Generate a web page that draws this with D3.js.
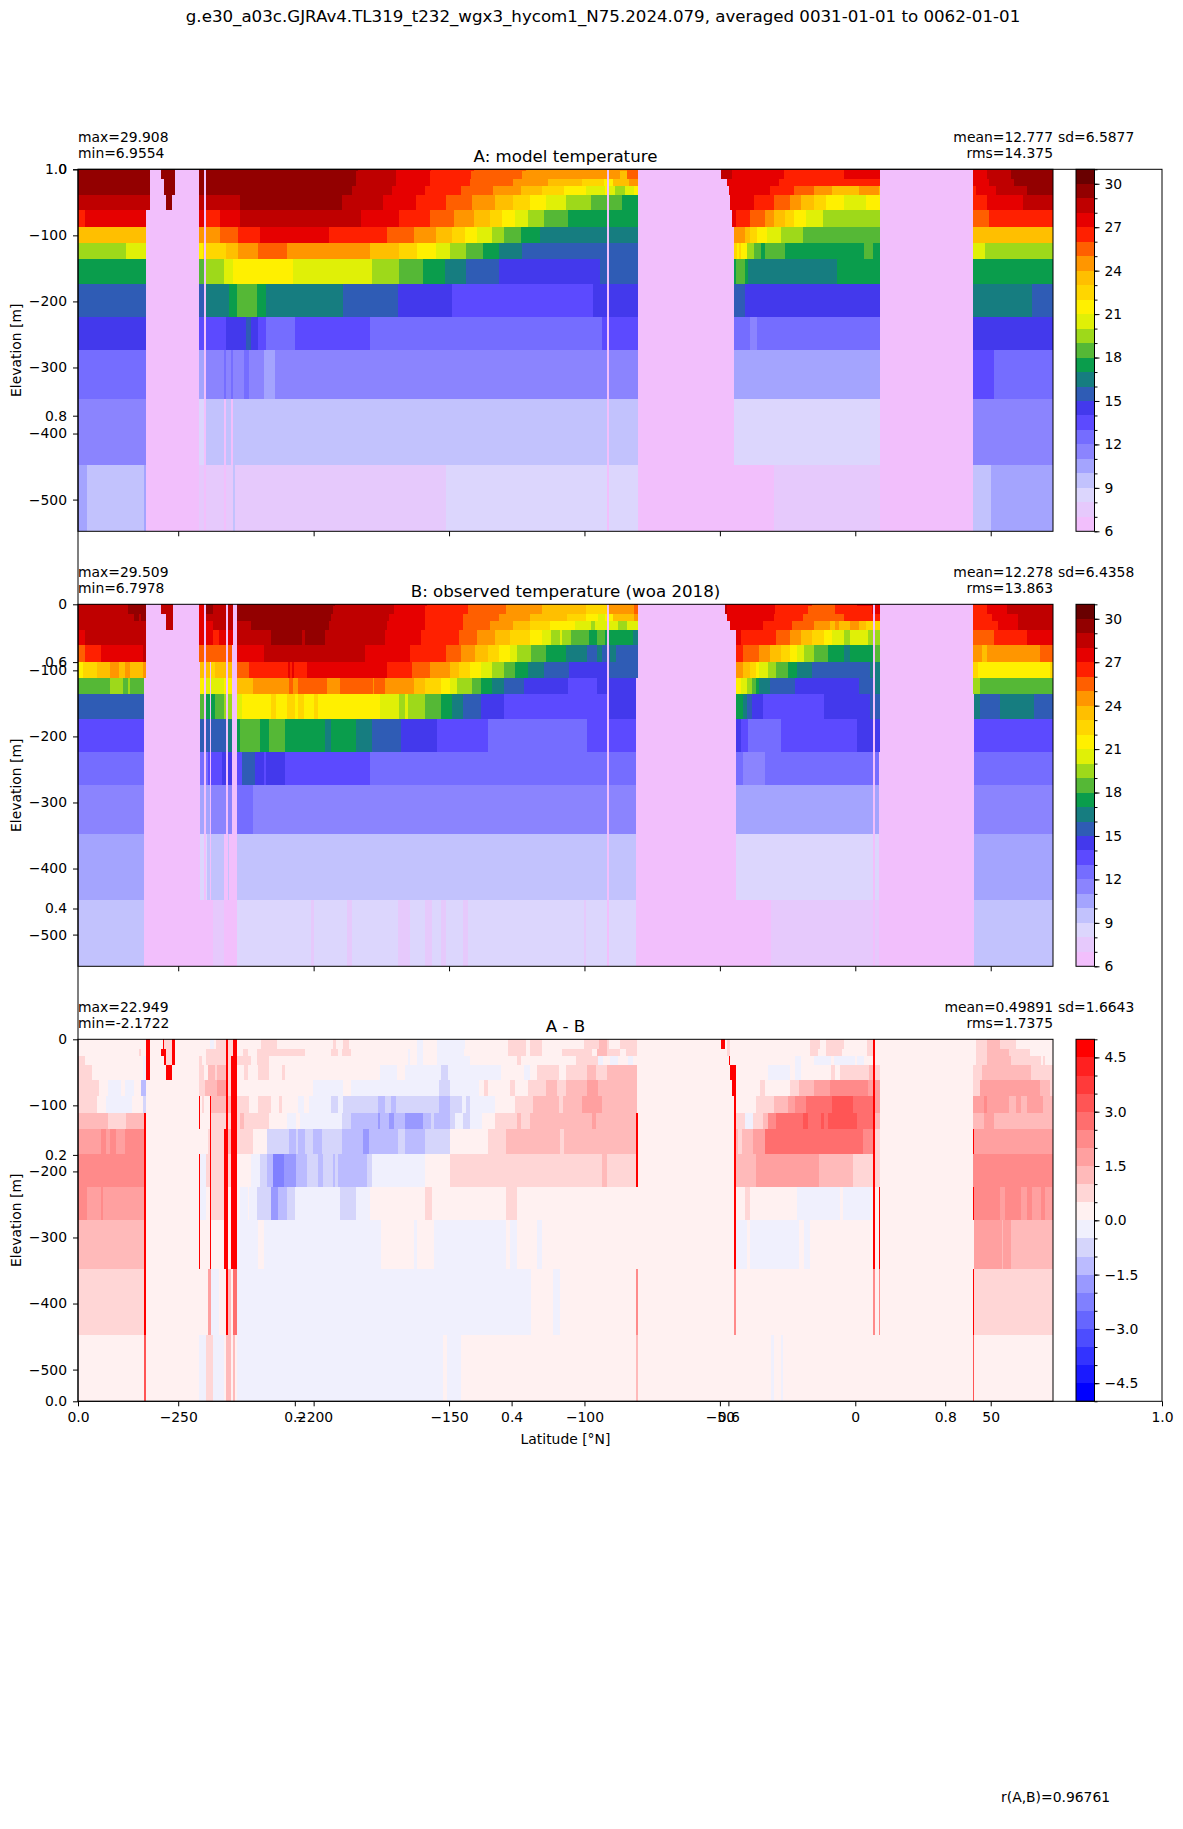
<!DOCTYPE html>
<html>
<head>
<meta charset="utf-8">
<style>
html,body{margin:0;padding:0;background:#fff}
svg text{font-family:"DejaVu Sans",sans-serif;fill:#000}
.tick text{font-size:13.9px;font-family:"DejaVu Sans",sans-serif;fill:#000}
.tick line,.domain{stroke:#000;stroke-width:1}
</style>
<script src="https://cdn.jsdelivr.net/npm/d3@7"></script>
</head>
<body>
<script>
// Section through the upper ocean: model, observations and their difference.
const suptitle = "g.e30_a03c.GJRAv4.TL319_t232_wgx3_hycom1_N75.2024.079, averaged 0031-01-01 to 0062-01-01";
const correlationLabel = "r(A,B)=0.96761";

const lonTicks = [-250,-200,-150,-100,-50,0,50];
const depthTicks = [0,-100,-200,-300,-400,-500];
const unitTicks = [0,0.2,0.4,0.6,0.8,1];
const tempBarTicks = [6,9,12,15,18,21,24,27,30];
const diffBarTicks = [-4.5,-3,-1.5,0,1.5,3,4.5];

// Layer interfaces in metres below the surface.
const depthEdges = [0,2.5,14.6,24.6,39,61.6,87,111,136,173.5,223.5,273.5,348,448,548];
const diffDepthEdges = [0,14.6,24.6,39,61.6,86,111,136,173.5,223.5,273.5,348,448,548];

const tempColors = ["#f2bffc","#e6c9fc","#dcd6fd","#c2c2fd","#a4a4fe","#8b84fe","#756dff","#5c4aff","#4339ec","#2f5cb5","#167d80","#0a9d4c","#55b836","#9ed91a","#e0f007","#fff000","#ffd600","#ffbf00","#ff9600","#ff5f00","#ff2000","#e60000","#bf0000","#930000","#690000"];
const diffColors = ["#0000ff","#1a1aff","#3333ff","#4d4dff","#6666ff","#8080ff","#9999ff","#bbbbff","#d5d5fb","#f0f0fd","#fff1f1","#ffd6d6","#ffbaba","#ffa0a0","#ff8a8a","#ff6e6e","#ff5555","#ff3a3a","#ff2020","#ff0000"];

// Each layer lists value, eastern edge, value, eastern edge... starting from the western limit.
const modelRows = [
[29,-260.4,6,-256.3,29,-251.2,6,-242.3,29,-183.6,28,-169.5,27,-156.5,26,-140.9,25,-121.7,24,-84.2,25,-80.2,6,-49.6,28,-45.5,27,-26.3,26,-4.3,27,9.15,6,43.5,27,48.7,28,57.5,29,73],
[29,-260.4,6,-256.3,29,-251.2,6,-242.3,29,-184.2,28,-169.5,27,-156.9,26,-142,25,-123,24,-86.7,23,-84.2,25,-80.2,6,-49.6,28,-45.5,27,-26.3,26,-4.3,27,9.15,6,43.5,27,48.7,28,57.5,29,73],
[29,-260.4,6,-255.3,29,-251.2,6,-242.3,29,-184.2,28,-169.5,27,-156.9,26,-142.2,25,-126.4,24,-113.5,23,-100.8,22,-92.8,21,-89.4,23,-83.5,24,-80.2,6,-47.3,27,-28.3,26,9.15,6,43.5,27,49.2,28,58.6,29,73],
[29,-260.4,6,-255.3,29,-251.2,6,-242.3,29,-185.7,28,-171,27,-158.9,26,-145.5,25,-133.8,24,-123.5,23,-115.6,22,-107.5,21,-99.4,20,-92.5,21,-91,20,-88.7,19,-85.2,20,-81.7,21,-80.2,6,-46.6,27,-31.5,26,-22.6,25,-15.2,24,-8.6,23,1.5,24,8.7,23,9.15,6,43.5,26,44.5,27,52,28,63.4,29,73],
[28,-260.4,6,-254.5,29,-252.2,6,-242.3,28,-227.2,29,-189.4,28,-174.4,27,-162.1,26,-151.1,25,-141.4,24,-133,23,-126.4,22,-120.1,21,-114.1,20,-106.7,19,-97.5,18,-86.3,17,-80.2,6,-46.2,27,-37.4,26,-30,25,-24.1,24,-20,23,-15.2,22,-10.8,21,-4.2,20,3.9,21,9.15,6,43.5,26,48.7,27,62,28,73],
[26,-284.4,27,-261.9,6,-242.3,27,-240.5,26,-234.6,27,-227.2,28,-182.5,27,-168.5,26,-157,25,-148.2,24,-140.8,23,-134.8,22,-130.4,21,-125.6,20,-120.9,19,-115,18,-106.1,17,-80.2,6,-45.5,27,-44,26,-38.9,25,-33.3,24,-30,23,-25.9,22,-22.6,21,-18.2,20,-11.9,19,9.15,6,43.5,25,49.4,26,73],
[23,-261.9,6,-242.3,24,-234.6,25,-228,26,-219.8,27,-194.3,26,-172.8,25,-163,24,-154.7,23,-148.8,22,-144.1,21,-139.6,20,-134.1,19,-129.7,18,-123.4,17,-116.4,16,-80.2,6,-44.8,24,-40.7,23,-38.9,22,-36.3,21,-32.6,20,-27.4,19,-19.3,18,9.15,6,43.5,23,73],
[19,-269.25,20,-261.9,6,-242.3,21,-240.9,22,-232.3,23,-228,24,-220.6,25,-209.8,24,-179.2,23,-168.5,22,-161.7,21,-154.7,20,-149.6,19,-143.7,18,-137.5,17,-131.5,16,-123.1,15,-80.2,6,-44.8,22,-43.7,21,-43,22,-42.2,21,-40,19,-37.4,18,-34.8,17,-33.3,18,-25.9,17,3.2,18,6.7,17,9.15,6,43.5,20,47.9,19,73],
[17,-261.9,6,-242.3,18,-240.5,19,-233.1,20,-229.8,21,-207.6,20,-178.4,19,-168.5,18,-159.6,17,-151.5,16,-143.7,15,-131.5,14,-94.2,15,-80.2,6,-44.8,17,-44,18,-40.7,17,-39.6,16,-6.8,17,9.15,6,43.5,17,73],
[15,-261.9,6,-242.3,15,-240.2,16,-231.3,17,-228.2,18,-220.8,17,-217.5,16,-189.2,15,-168.9,14,-148.8,13,-96.9,14,-80.2,6,-44.8,15,-40.7,14,9.15,6,43.5,16,65.3,15,73],
[14,-261.9,6,-242.3,13,-232.3,14,-225,15,-223.2,14,-220.6,13,-217.5,12,-206.9,13,-179.2,12,-93.4,13,-80.2,6,-44.8,12,-38.9,11,-36.3,12,9.15,6,43.5,14,73],
[12,-261.9,6,-242.3,10,-240,11,-233.1,12,-232.3,11,-230.5,12,-229.8,11,-225.7,12,-223.9,11,-218.3,10,-214.3,11,-80.2,6,-44.8,10,9.15,6,43.5,13,51.3,12,73],
[11,-261.9,6,-242.3,8,-240,9,-233.1,6,-232.3,9,-230.5,6,-229.8,9,-80.2,6,-44.8,8,9.15,6,43.5,11,73],
[10,-283.6,9,-262.7,10,-261.9,6,-242.3,7,-233.1,6,-232.3,7,-229.8,9,-229,7,-151.1,8,-80.2,6,-30,7,9.15,6,43.5,9,50.2,10,73]
];

const obsRows = [
[28,-268.6,29,-261.9,6,-256.3,28,-255.4,6,-255.2,28,-252.1,6,-242.3,27,-240.5,29,-237.2,28,-232.3,6,-231.7,28,-229.8,6,-228.2,29,-192.1,28,-170.2,27,-158,26,-143,25,-128.8,24,-115.6,23,-99.4,22,-91.5,24,-81.6,25,-80.2,6,-48,28,-47.3,27,-29.7,26,-16,25,-7.5,26,0.5,27,9.15,6,43.5,26,48.6,27,56,28,73],
[28,-268.6,29,-261.9,6,-256.3,28,-255.4,6,-255.2,28,-252.1,6,-242.3,27,-240.5,29,-237.2,28,-232.3,6,-231.7,28,-229.8,6,-228.2,29,-192.9,28,-170.2,27,-158.9,26,-143,25,-128.8,24,-115.6,23,-99.4,22,-91.5,24,-81.6,25,-80.2,6,-48,28,-47.3,27,-29.7,26,-17.3,25,-7.5,26,6,27,9.15,6,43.5,26,48.6,27,56,28,73],
[28,-266.3,29,-264.6,28,-263.6,29,-261.9,6,-254.5,28,-252.1,6,-242.3,27,-240.5,28,-232.3,6,-231.7,28,-229.8,6,-228.2,29,-193.7,28,-172.3,27,-158.9,26,-144.9,25,-131.4,24,-120.1,23,-106.4,22,-99.4,21,-95.1,20,-92.5,21,-89.4,23,-81.6,24,-80.2,6,-47.3,27,-30,26,-19.3,25,-4.2,26,9.15,6,43.5,26,50.6,27,60.1,28,73],
[28,-261.9,6,-254.5,28,-252.1,6,-242.3,27,-237.2,28,-232.3,6,-231.7,28,-229.8,6,-228.2,28,-223,29,-194.3,28,-172.8,27,-158.9,26,-144.9,25,-134.8,24,-126.4,23,-120.1,22,-112.7,21,-103.4,20,-97.5,19,-96.2,20,-87.6,19,-84.2,20,-80.2,6,-46.2,27,-34.1,26,-23.4,25,-15.2,24,-9.2,23,-7.5,24,-6.1,23,-2.1,24,1.5,23,3.9,22,9.15,6,43.5,26,52.7,27,60.1,28,73],
[27,-284.4,28,-261.9,6,-242.3,27,-237.2,26,-235,27,-232.3,6,-231.7,27,-229.8,6,-228.2,28,-215.7,29,-204.2,28,-203.2,29,-195.8,28,-173.6,27,-160.3,26,-146.3,25,-139.6,24,-133,23,-127.5,22,-120.1,21,-115.6,20,-112.3,19,-109,20,-108.3,19,-104.9,18,-98.3,17,-95.3,18,-92.6,17,-81.9,16,-80.2,6,-44,27,-42.2,26,-29.3,25,-24.1,24,-20,23,-16,22,-11.6,21,-8.6,20,-4.2,19,-2,20,4.8,19,9.15,6,43.5,25,51.3,26,63.4,27,73],
[25,-284.4,26,-278.5,27,-263,28,-261.9,6,-242.3,25,-232.3,6,-231.7,25,-230.3,6,-228.2,27,-218.3,28,-181,27,-164.4,26,-151.1,25,-145.5,24,-140.4,23,-135.6,22,-131.5,21,-127.5,20,-124.8,19,-119.7,18,-114.1,17,-106.7,16,-99,15,-95.3,16,-93.4,15,-90.4,16,-88.5,15,-80.2,6,-44,26,-41.4,25,-35.5,24,-31.5,23,-27.4,22,-24.1,21,-21.5,20,-18.9,19,-15.2,18,-10.1,17,-4.2,16,-2,17,6.7,18,9.15,6,43.5,24,46.8,23,48.6,24,68.2,25,73],
[21,-285.3,22,-280,23,-275.2,24,-271.9,23,-269.6,24,-267.8,23,-263,24,-261.9,6,-241.9,23,-238.3,6,-237.9,22,-236.5,23,-232.3,6,-231.7,23,-230.3,6,-228.2,25,-223.9,26,-209.6,27,-208.9,26,-207.9,27,-207.2,26,-202.4,27,-172.8,26,-163.6,25,-157,24,-149.6,23,-146.3,22,-142.2,21,-138.1,20,-134.1,19,-129.7,18,-125.6,17,-120.9,16,-115,15,-105.7,14,-90.8,15,-80.2,6,-44,24,-41.4,23,-38.9,22,-36.6,21,-35.5,20,-32.2,19,-29.3,18,-24.8,17,-21.5,16,-16,15,5.4,16,9.15,6,43.5,22,45.4,21,71.9,22,73],
[18,-275.2,19,-270.4,18,-268.6,19,-267.8,18,-262.7,6,-241.9,21,-240.5,20,-238.3,6,-237.9,20,-233.1,21,-232.3,6,-231.7,21,-230.3,6,-228.2,23,-222.4,24,-209.1,25,-207.6,24,-205.8,25,-195,24,-190.2,25,-178.2,24,-177.6,25,-173.6,24,-163,23,-158.9,22,-152.9,21,-149.6,20,-147,19,-141.4,18,-138.1,17,-134.1,16,-129.7,15,-122.3,14,-106.1,13,-95.3,14,-80.9,6,-44,21,-42.2,20,-40,19,-38.1,18,-36.6,17,-35.5,16,-31.5,15,-22.3,14,1.5,15,6.7,16,9.15,6,43.5,19,46.1,18,73],
[15,-262.7,6,-241.9,18,-240,17,-238.3,6,-237.9,17,-236.5,18,-233.1,19,-232.3,6,-231.7,19,-230.3,6,-228.2,20,-226.4,21,-215.7,22,-213.8,21,-209.8,22,-206.7,21,-205.7,22,-203.6,21,-199.7,22,-198.4,21,-175.5,20,-168.5,19,-166.2,20,-165.2,19,-158.9,18,-152.9,17,-148.8,16,-144.9,15,-138.1,14,-129.7,13,-91.8,14,-80.9,6,-44,17,-41.4,16,-40,15,-38.1,14,-34.1,13,-11.6,14,5.4,15,9.15,6,43.9,16,46.1,15,53.5,16,66.1,15,73],
[13,-262.7,6,-241.9,15,-238.3,6,-237.9,15,-232.3,6,-231.7,16,-230.3,6,-228.2,17,-227.2,18,-219.8,17,-216.5,18,-210.6,17,-195.8,16,-193.5,17,-184.3,16,-178.5,15,-167.7,14,-154.4,13,-135.6,12,-99,13,-80.9,6,-44,14,-42.2,13,-39.6,12,-27.4,13,0.6,14,9.15,6,43.9,13,73],
[12,-262.7,6,-241.9,12,-239,13,-238.3,6,-237.9,13,-233.8,14,-232.3,6,-231.7,14,-230.3,6,-228.2,13,-226.4,15,-221.6,14,-218.3,13,-217.5,14,-210.6,13,-179.2,12,-80.9,6,-44,12,-41.4,11,-33.3,12,8.7,6,43.9,12,73],
[11,-262.7,6,-241.9,10,-238.3,6,-237.9,11,-232.3,6,-231.7,11,-230.3,6,-228.2,12,-222.4,11,-80.9,6,-44,10,8.7,6,43.9,11,73],
[10,-262.7,6,-241.9,8,-239.4,9,-238.3,6,-237.9,9,-233.1,6,-231.7,9,-231.1,6,-228.2,9,-80.9,6,-44,8,8.7,6,43.9,10,73],
[9,-262.7,6,-237.2,7,-233.1,6,-228.2,8,-200.9,7,-200,8,-187.6,7,-185.7,8,-168.7,7,-164.4,8,-158.9,7,-156.2,8,-152.9,7,-151.1,8,-144.9,7,-143,8,-100.2,7,-99.4,8,-80.9,6,-31.3,7,8.7,6,43.9,9,73]
];

const diffRows = [
[.25,-261.9,4.75,-260.4,.25,-255.5,4.75,-255.1,.75,-252.2,4.75,-251.2,.25,-238.4,-.25,-236.9,.25,-236.1,.75,-232.3,4.75,-231.7,.75,-229.8,4.75,-228.2,.25,-219.4,.75,-213.5,.25,-192.7,.75,-191.8,.25,-189,.75,-187.1,.25,-161.7,-.25,-159.8,.25,-154.5,-.25,-144.2,.25,-128.1,.75,-121.5,.25,-120.1,.75,-115.6,.25,-100.2,.75,-94.5,1.25,-91.8,.75,-90.8,.25,-86.7,.75,-80.5,.25,-49.6,4.75,-48.1,.25,-47.3,.75,-46.2,.25,-16.7,.75,-13.2,.25,-10.9,.75,-4.3,.25,4.2,.75,6.7,4.75,7.4,.25,44.7,.75,48.6,1.25,53.3,.75,59.3,.25,73],
[.25,-264.4,.75,-263.6,.25,-261.9,4.75,-260.4,.25,-256.3,4.75,-254.5,.75,-252.2,4.75,-251.2,.25,-239.6,.75,-232.3,4.75,-231.7,.75,-229.8,4.75,-228.2,.25,-226.1,.75,-224.1,.25,-220.8,.75,-203.2,.25,-193.7,.75,-191,.25,-189.4,.75,-186.1,.25,-165.3,-.25,-164.4,.25,-161.7,-.25,-159.8,.25,-154.5,-.25,-144.6,.25,-128.1,.75,-121.5,.25,-120.1,.75,-115.6,.25,-108.3,.75,-97.1,.25,-95.4,1.25,-91.8,.75,-87,.25,-84.6,.75,-80.5,.25,-47.3,.75,-46.2,.25,-16.7,.75,-13.6,.25,-11,.75,-4.8,.25,4.2,.75,6.7,4.75,7.4,.25,44.7,.75,48.6,1.25,56.8,.75,64.5,.25,73],
[.75,-284.4,.25,-263,-.25,-261.9,4.75,-260.4,.25,-255.3,4.75,-254.5,.75,-252.2,4.75,-251.2,.25,-242.2,.75,-241.3,.25,-239.8,.75,-232.3,4.75,-231.7,.75,-230.5,4.75,-228.2,.75,-223,.25,-220.8,.75,-216.5,.25,-165,-.25,-164.4,.25,-161.7,-.25,-159.8,.25,-154.5,-.25,-142.2,.25,-124.8,.75,-123.5,.25,-103.3,.75,-95.1,-.25,-93.2,.25,-90.5,-.25,-87.6,.25,-84,-.25,-81.9,.25,-46.6,4.75,-46.2,.25,-22.2,-.25,-20.1,.25,-15.3,-.25,-9.1,.25,-8,-.25,-.1,.25,.5,-.25,3.2,.25,6.7,4.75,7.4,.25,44.7,.75,48.6,1.25,57.5,.75,68.5,.25,69.2,.75,70.1,.25,73],
[.75,-281.8,.25,-263,-.25,-261.9,4.75,-260.4,.25,-254.5,4.75,-252.2,.25,-242.2,.75,-240.5,.25,-239,1.25,-236.3,.75,-235.6,1.25,-232.3,4.75,-231.7,.75,-230.5,4.75,-228.2,.25,-225.7,.75,-224.1,.25,-220.4,.75,-216.5,.25,-211.6,.75,-210.6,.25,-175.6,-.25,-169.4,.25,-166.4,-.25,-152.9,-.75,-150.4,-.25,-130.9,.25,-122.3,-.25,-120.1,.25,-117.6,.75,-109.3,.25,-106.7,.75,-99.1,1.25,-95.8,.75,-91.8,1.25,-80.5,.25,-46.2,4.75,-44,.25,-32.4,-.25,-24.1,.25,-22.2,-.25,-20.1,.25,-9.1,.75,-7.5,.25,-5.7,.75,4.9,1.25,6.7,4.75,7.4,.75,9.15,.25,43.5,.75,46.8,1.25,64.8,.75,73],
[.75,-279.4,.25,-276,-.25,-271.1,.25,-269.6,-.25,-266.3,.25,-263.6,-1.25,-261.9,.25,-242.2,.75,-240,1.25,-235.6,1.75,-232.3,4.75,-231.7,.75,-230.5,4.75,-228.2,.25,-200.3,-.25,-189.2,.25,-186.1,-.25,-153.6,-.75,-149.6,-.25,-139,.25,-137.1,.75,-135.8,.25,-127.5,.75,-125.5,.25,-120.9,.75,-114.3,1.25,-110.1,.75,-106.7,1.25,-99.1,1.75,-95.1,1.25,-80.5,.25,-45.5,4.75,-44,.25,-35.2,.75,-33.3,.25,-24.1,.75,-20.8,1.25,-15.2,1.75,-9.2,2.25,4.8,1.75,6.7,4.75,7.4,1.75,9.15,.25,43.5,.75,46.1,1.75,68.2,1.25,71.9,.75,73],
[.75,-280,.25,-276.5,-.25,-267,.25,-263,-.75,-261.9,.25,-242.2,4.75,-242,.25,-241.2,.75,-240.4,.25,-238.3,4.75,-237.9,1.25,-232.3,4.75,-231.7,1.25,-230.5,4.75,-228.2,.75,-223.7,.25,-220.7,.75,-215.8,.25,-212.9,.75,-211.6,.25,-205.7,-.25,-203.6,.25,-201.6,-.25,-193.7,-.75,-191,-.25,-189.2,-.75,-176.3,-1.25,-173.6,-.75,-171.6,-1.25,-169.5,-.75,-153.6,-1.25,-149.6,-.75,-145.4,-.25,-143.7,-.75,-142.2,-.25,-133,.25,-125.5,.75,-118.9,1.25,-109.4,.75,-108.1,1.25,-100.8,1.75,-93.4,1.25,-80.5,.25,-44.8,4.75,-44,.25,-36.6,.75,-30,1.25,-24.8,1.75,-22.3,2.25,-18.2,2.75,-8.6,3.25,-.9,2.75,6.7,4.75,7.4,1.75,9.15,.25,43.5,1.75,47.6,2.25,48.7,1.75,56.8,1.25,59.5,1.75,61.2,1.25,63.4,1.75,69.4,1.25,73],
[1.25,-276,.75,-269.2,1.25,-262.7,4.75,-261.9,.25,-242.2,4.75,-242,.25,-238.3,4.75,-237.9,.75,-232.3,4.75,-231.7,.75,-230.5,4.75,-228.2,.75,-227.3,1.25,-225.7,.75,-216.5,.25,-209.9,-.25,-206.6,.25,-205,-.25,-189.4,-.75,-186.1,-1.25,-176.3,-1.75,-175.4,-1.25,-172.3,-1.75,-170.3,-1.25,-166.4,-1.75,-159.6,-1.25,-156.5,-.75,-155.5,-1.25,-149.6,-.75,-147.9,-.25,-144.9,-.75,-142.2,-.25,-138,.25,-133,.75,-124.8,1.25,-123.5,.75,-120.1,1.25,-97.1,1.75,-95.8,1.25,-81,4.75,-80.2,.25,-44.8,4.75,-44,.75,-40.7,-.25,-37.7,.75,-34.1,1.25,-32.4,2.25,-29.3,2.75,-19.3,3.25,-17.4,2.75,-12.6,3.25,-11.6,2.75,-10.1,3.25,.6,2.75,6.7,4.75,7.4,1.25,9.15,.25,43.5,1.25,47.6,1.75,51.3,1.25,73],
[1.75,-278.5,2.25,-276.5,1.75,-275.2,2.25,-272.9,1.75,-269.6,2.25,-262.7,4.75,-261.9,.25,-239,.75,-238.3,4.75,-237.9,.75,-233.1,4.75,-231.7,1.25,-230.5,4.75,-228.2,.75,-222.4,.25,-217.1,-.75,-209.1,-1.25,-206.6,-.75,-205.8,-1.25,-203.2,-.75,-200.3,-1.25,-196.8,-.75,-189.4,-1.25,-181.8,-1.75,-179.5,-1.25,-168.9,-.75,-166.2,-1.25,-158.9,-.75,-149.6,.25,-135.6,.75,-128.8,1.25,-109,.75,-107.6,1.25,-91.8,1.25,-81,4.75,-80.2,.25,-44.8,4.75,-44,1.25,-43.3,.75,-41.9,1.25,-37.9,1.75,-33.3,2.75,2.7,2.25,6.7,4.75,7.4,.75,9.15,.25,43.5,4.75,44,1.75,73],
[2.25,-262.7,4.75,-261.9,.25,-242.2,4.75,-242,-.25,-239.8,.75,-238.3,4.75,-237.9,.75,-233.1,4.75,-231.7,.75,-230.5,4.75,-228.2,.25,-223,-.25,-219.8,-.75,-217.4,-1.25,-214.9,-2.25,-210.9,-1.75,-206.6,-1.25,-202.4,-.75,-198.4,-1.25,-196.6,-.75,-192.7,-1.25,-192,-.75,-191,-1.25,-180.2,-.75,-178.4,-.25,-158.9,.25,-149.6,.75,-93.4,1.25,-91.8,.75,-81,4.75,-80.2,.25,-44.8,4.75,-44,1.25,-36.6,1.75,-13.4,1.25,-.9,.75,6.7,4.75,7.4,.75,9.15,.25,43.5,2.25,73],
[2.25,-283.6,1.75,-278.5,2.25,-277.8,1.75,-262.7,4.75,-261.9,.25,-242.2,4.75,-242,-.25,-239.8,.25,-238.3,4.75,-237.9,.75,-233.1,4.75,-231.7,.25,-230.5,4.75,-228.2,.25,-227.3,-.25,-224.1,.25,-223.7,-.25,-220.8,-.75,-215.8,-1.75,-213.2,-1.25,-209.8,-.75,-206.9,-.25,-190.2,-.75,-184.3,-.25,-179.2,.25,-158.9,.75,-156.2,.25,-128.8,.75,-124.8,.25,-44.8,4.75,-44,.25,-40.7,.75,-38.9,.25,-21.5,-.25,-5.8,.25,-4.7,-.25,6.7,4.75,7.4,.25,8.7,4.75,9.15,.25,43.5,4.75,43.8,2.25,53.5,1.75,55.4,2.25,61.2,1.75,63.4,2.25,65.4,1.75,68.6,2.25,70.1,1.75,72.7,2.25,73],
[1.25,-262.7,4.75,-261.9,.25,-242.2,4.75,-242,.25,-238.3,4.75,-237.9,.25,-233.1,4.75,-231.7,.25,-230.5,4.75,-228.2,-.25,-220.4,.25,-218.3,-.25,-175.1,.25,-163,-.25,-161.7,.25,-155.5,-.25,-128.8,.25,-127.5,-.25,-124.8,.25,-117.4,-.25,-115.6,.25,-44.8,4.75,-44,-.25,-40,.25,-38.8,-.25,-20.8,.25,-18.9,-.25,-16.7,.25,6.7,4.75,7.4,.25,8.7,4.75,9.15,.25,43.7,1.75,54,1.25,54.7,1.75,57.5,1.25,73],
[.75,-262.7,4.75,-261.9,.25,-239,1.75,-237.9,-.25,-235,.25,-232.3,4.75,-231.7,1.25,-230.5,.25,-229.8,2.75,-228.2,-.25,-119.8,.25,-111.6,-.25,-109,.25,-81,2.25,-80.2,.25,-44.8,2.25,-44,.25,6.7,2.25,7.4,.25,8.7,2.25,9.15,.25,43.5,4.75,43.8,.75,73],
[.25,-262.7,3.25,-261.9,.25,-242.2,-.25,-239.8,.75,-237.2,-.25,-233.1,.25,-232.3,1.25,-230.5,.25,-229.8,1.25,-229,.25,-228.2,-.25,-152.1,.25,-150.8,-.25,-145.5,.25,-81,1.25,-80.2,.25,-31.3,-.25,-30.1,.25,-27.4,-.25,-26.8,.25,43.5,3.25,43.8,.25,73]
];

// Narrow passages drawn over every layer, in degrees.
const modelStraits = [[-240.5,-239.7],[-91.7,-91.1]];
const obsStraits = [[-240.5,-239.7],[-91.7,-91.1],[6.7,7.4]];

const panels = [
  {top:169.3, title:"A: model temperature", left:["max=29.908","min=6.9554"], mean:"mean=12.777", sd:"sd=6.5877", rms:"rms=14.375", rows:modelRows, edges:depthEdges, kind:"temp", straits:modelStraits, labelled:false},
  {top:604.3, title:"B: observed temperature (woa 2018)", left:["max=29.509","min=6.7978"], mean:"mean=12.278", sd:"sd=6.4358", rms:"rms=13.863", rows:obsRows, edges:depthEdges, kind:"temp", straits:obsStraits, labelled:false},
  {top:1039.3, title:"A - B", left:["max=22.949","min=-2.1722"], mean:"mean=0.49891", sd:"sd=1.6643", rms:"rms=1.7375", rows:diffRows, edges:diffDepthEdges, kind:"diff", straits:[], labelled:true}
];

const W = 1183, H = 1829;
const axLeft = 78, axRight = 1053, panelH = 362;
const barLeft = 1076, barRight = 1094.5;
const outerRight = 1162, outerBottom = 1401.3;

const svg = d3.select("body").append("svg").attr("width",W).attr("height",H).style("display","block");

const tempDomain = d3.range(7,31);
const diffDomain = d3.range(-4.5,4.75,0.5);
const tempScale = d3.scaleThreshold().domain(tempDomain).range(tempColors);
const diffScale = d3.scaleThreshold().domain(diffDomain).range(diffColors);
const x = d3.scaleLinear().domain([-287,73]).range([axLeft,axRight]);

svg.append("text").attr("x",603).attr("y",22).attr("text-anchor","middle").style("font-size","16.67px").text(suptitle);

// Unit axes spanning the full figure frame.
const outerX = d3.scaleLinear().domain([0,1]).range([axLeft,outerRight]);
const outerY = d3.scaleLinear().domain([0,1]).range([outerBottom,169.3]);

panels.forEach(p => {
  const g = svg.append("g");
  const y = d3.scaleLinear().domain([-548,0]).range([p.top+panelH,p.top]);
  const colour = p.kind === "temp" ? tempScale : diffScale;

  p.rows.forEach((row,i) => {
    let west = -287;
    for (let k=0;k<row.length;k+=2) {
      const east = row[k+1];
      g.append("rect")
        .attr("x",x(west)).attr("width",Math.max(0,x(east)-x(west)))
        .attr("y",y(-p.edges[i])).attr("height",y(-p.edges[i+1])-y(-p.edges[i]))
        .attr("fill",colour(row[k])).attr("shape-rendering","crispEdges");
      west = east;
    }
  });
  p.straits.forEach(s => {
    g.append("rect").attr("x",x(s[0])).attr("width",x(s[1])-x(s[0]))
      .attr("y",p.top).attr("height",panelH).attr("fill",tempColors[0]).attr("shape-rendering","crispEdges");
  });

  g.append("rect").attr("x",axLeft).attr("y",p.top).attr("width",axRight-axLeft).attr("height",panelH)
    .attr("fill","none").attr("stroke","#000");

  g.append("g").attr("transform",`translate(${axLeft},0)`)
    .call(d3.axisLeft(y).tickValues(depthTicks).tickFormat(d3.format("d")).tickSize(5).tickPadding(6).tickSizeOuter(0))
    .call(a=>a.select(".domain").remove());

  g.append("g").attr("transform",`translate(0,${p.top+panelH})`)
    .call(d3.axisBottom(x).tickValues(lonTicks).tickFormat(p.labelled?d3.format("d"):"").tickSize(5).tickPadding(6).tickSizeOuter(0))
    .call(a=>a.select(".domain").remove());

  g.append("text").attr("x",(axLeft+axRight)/2).attr("y",p.top-7.5).attr("text-anchor","middle").style("font-size","16.67px").text(p.title);
  g.append("text").attr("x",axLeft).attr("y",p.top-27.6).style("font-size","13.9px").text(p.left[0]);
  g.append("text").attr("x",axLeft).attr("y",p.top-11.6).style("font-size","13.9px").text(p.left[1]);
  g.append("text").attr("x",axRight).attr("y",p.top-27.6).attr("text-anchor","end").style("font-size","13.9px").text(p.mean);
  g.append("text").attr("x",axRight+5).attr("y",p.top-27.6).style("font-size","13.9px").text(p.sd);
  g.append("text").attr("x",axRight).attr("y",p.top-11.6).attr("text-anchor","end").style("font-size","13.9px").text(p.rms);

  g.append("text").attr("transform",`translate(21,${p.top+panelH/2}) rotate(-90)`).attr("text-anchor","middle").style("font-size","13.9px").text("Elevation [m]");

  // Colour bar with one band per contour interval.
  const barDomain = p.kind === "temp" ? [6,31] : [-5,5];
  const step = p.kind === "temp" ? 1 : 0.5;
  const bar = d3.scaleLinear().domain(barDomain).range([p.top+panelH,p.top]);
  const colours = p.kind === "temp" ? tempColors : diffColors;
  colours.forEach((c,i) => {
    const lo = barDomain[0]+i*step;
    g.append("rect").attr("x",barLeft).attr("width",barRight-barLeft)
      .attr("y",bar(lo+step)).attr("height",bar(lo)-bar(lo+step)).attr("fill",c).attr("shape-rendering","crispEdges");
  });
  g.append("rect").attr("x",barLeft).attr("y",p.top).attr("width",barRight-barLeft).attr("height",panelH)
    .attr("fill","none").attr("stroke","#000");
  const minorTicks = d3.range(barDomain[0],barDomain[1]+step/2,step);
  g.append("g").attr("transform",`translate(${barRight},0)`)
    .call(d3.axisRight(bar).tickValues(minorTicks).tickFormat("").tickSize(3).tickSizeOuter(0))
    .call(a=>a.select(".domain").remove());
  g.append("g").attr("transform",`translate(${barRight},0)`)
    .call(d3.axisRight(bar).tickValues(p.kind==="temp"?tempBarTicks:diffBarTicks).tickFormat(p.kind==="temp"?d3.format("d"):d3.format(".1f")).tickSize(5).tickPadding(5).tickSizeOuter(0))
    .call(a=>a.select(".domain").remove());
});

// Figure frame and its unit ticks.
svg.append("rect").attr("x",axLeft).attr("y",169.3).attr("width",outerRight-axLeft).attr("height",outerBottom-169.3)
  .attr("fill","none").attr("stroke","#000");
svg.append("g").attr("transform",`translate(${axLeft},0)`)
  .call(d3.axisLeft(outerY).tickValues(unitTicks).tickFormat(d3.format(".1f")).tickSize(5).tickPadding(6).tickSizeOuter(0))
  .call(a=>a.select(".domain").remove());
svg.append("g").attr("transform",`translate(0,${outerBottom})`)
  .call(d3.axisBottom(outerX).tickValues(unitTicks).tickFormat(d3.format(".1f")).tickSize(5).tickPadding(6).tickSizeOuter(0))
  .call(a=>a.select(".domain").remove());

svg.append("text").attr("x",(axLeft+axRight)/2).attr("y",1444).attr("text-anchor","middle").style("font-size","13.9px").text("Latitude [°N]");
svg.append("text").attr("x",1001).attr("y",1802).style("font-size","13.9px").text(correlationLabel);
</script>
</body>
</html>
